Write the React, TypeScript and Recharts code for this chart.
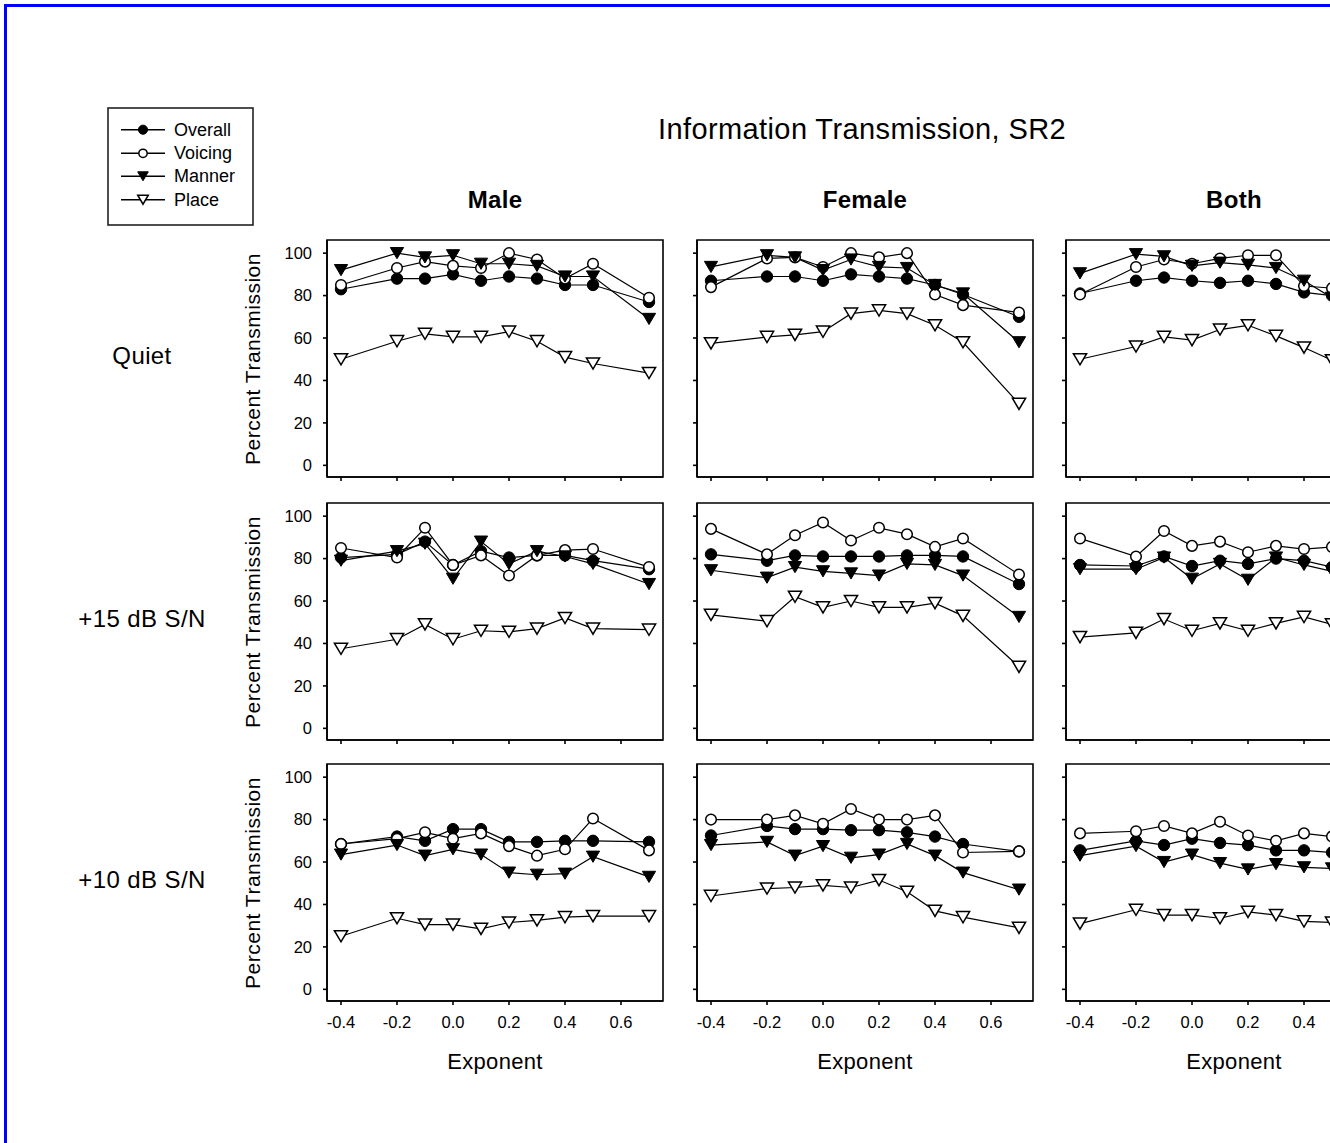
import React from 'react';
import { LineChart, Line, XAxis, YAxis, ReferenceArea } from 'recharts';

const EXPONENTS = [-0.4, -0.2, -0.1, 0.0, 0.1, 0.2, 0.3, 0.4, 0.5, 0.7];
const SERIES = ['Overall', 'Voicing', 'Manner', 'Place'];
const SERIES_KEYS = ['overall', 'voicing', 'manner', 'place'];
const COLUMNS = ['Male', 'Female', 'Both'];
const ROWS = ['Quiet', '+15 dB S/N', '+10 dB S/N'];
const X_TICKS = [-0.4, -0.2, 0.0, 0.2, 0.4, 0.6];
const Y_TICKS = [0, 20, 40, 60, 80, 100];

// each panel: [overall, voicing, manner, place]
const maleQuiet = [
  [83, 88, 88, 90, 87, 89, 88, 85, 85, 77],
  [85, 93, 96, 94, 93, 100, 97, 88, 95, 79],
  [92, 100, 98, 99, 95, 95, 94, 89, 89, 69],
  [50, 58.5, 62, 60.5, 60.5, 63, 58.5, 51, 48, 43.5],
];
const femaleQuiet = [
  [87, 89, 89, 87, 90, 89, 88, 85, 80.5, 70],
  [84, 97.5, 98, 93.5, 100, 98, 100, 80.5, 75.5, 72],
  [93.5, 99, 98, 92, 97, 93.5, 93, 85, 81, 58],
  [57.5, 60.5, 61.5, 63, 71.5, 73, 71.5, 66, 58, 29],
];
const bothQuiet = [
  [81, 87, 88.5, 87, 86, 87, 85.5, 81.5, 80, 73.5],
  [80.5, 93.5, 97, 95, 97.5, 99, 99, 84.5, 83.5, 75.5],
  [90.5, 99.5, 98.5, 94, 95.5, 94.5, 93, 87, 79, 63.5],
  [50, 56, 60.5, 59, 64, 66, 61, 55.5, 49.5, 36],
];
const maleSN15 = [
  [80.5, 82, 88, 77, 83.5, 80.5, 81.5, 81.5, 79, 75],
  [85, 80.5, 94.5, 77, 81.5, 72, 81.5, 84, 84.5, 76],
  [79, 83.5, 87, 70.5, 88, 77.5, 83.5, 81, 77.5, 68],
  [37.5, 42, 49, 42, 46, 45.5, 47, 52, 47, 46.5],
];
const femaleSN15 = [
  [82, 79, 81.5, 81, 81, 81, 81.5, 81.5, 81, 68],
  [94, 82, 91, 97, 88.5, 94.5, 91.5, 85.5, 89.5, 72.5],
  [74.5, 71, 76, 74, 73, 72, 77.5, 77, 72, 52.5],
  [53.5, 50.5, 62, 57, 60, 57, 57, 59, 53, 29],
];
const bothSN15 = [
  [77, 76.5, 81, 76.5, 79, 77.5, 80, 79, 76, 71.5],
  [89.5, 81, 93, 86, 88, 83, 86, 84.5, 85.5, 74.5],
  [75, 75, 80.5, 70.5, 77.5, 70, 80.5, 77, 74, 60],
  [43, 45, 51.5, 46, 49.5, 46, 49.5, 52.5, 49, 38],
];
const maleSN10 = [
  [68.5, 72, 70, 75.5, 75.5, 69.5, 69.5, 70, 70, 69.5],
  [68.5, 71, 74, 71, 73.5, 67.5, 63, 66, 80.5, 65.5],
  [63.5, 68, 63, 66, 63.5, 55, 54, 54.5, 62.5, 53],
  [25, 33.5, 30.5, 30.5, 28.5, 31.5, 32.5, 34, 34.5, 34.5],
];
const femaleSN10 = [
  [72.5, 77, 75.5, 75.5, 75, 75, 74, 72, 68.5, 65],
  [80, 80, 82, 78, 85, 80, 80, 82, 64.5, 65],
  [68, 69.5, 63, 67.5, 62, 63.5, 68.5, 63, 55, 47],
  [44, 47.5, 48, 49, 48, 51.5, 46, 37, 34, 29],
];
const bothSN10 = [
  [65.5, 70, 68, 71, 69, 68, 65.5, 65.5, 64.5, 67],
  [73.5, 74.5, 77, 73.5, 79, 72.5, 70, 73.5, 72, 65],
  [63, 67.5, 60, 63.5, 59.5, 56.5, 59, 57.5, 57, 50],
  [31, 37.5, 35, 35, 33.5, 36.5, 35, 32, 31.5, 32],
];

const PANELS = [
  [maleQuiet, femaleQuiet, bothQuiet],
  [maleSN15, femaleSN15, bothSN15],
  [maleSN10, femaleSN10, bothSN10],
];

const X_DOMAIN: [number, number] = [-0.45, 0.75];
const Y_DOMAIN: [number, number] = [-5.5, 106.2];

const COL_LEFT = [327, 697, 1066];
const ROW_TOP = [240, 503, 764];
const BOX_W = 336;
const BOX_H = 237;
const Y_W = 50;
const X_H = 40;
const M_TOP = 5;
const M_RIGHT = 5;

const FONT = '"Liberation Sans", Arial, Helvetica, sans-serif';

function Marker({ cx, cy, kind, size = 1 }: { cx?: number; cy?: number; kind: number; size?: number }) {
  if (cx == null || cy == null) return null;
  const r = 5.7 * size;
  const w = 6.6 * size;
  const h = 5.6 * size;
  if (kind === 0) return <circle cx={cx} cy={cy} r={r} fill="#000" stroke="#000" strokeWidth={1} />;
  if (kind === 1) return <circle cx={cx} cy={cy} r={r - 0.4} fill="#fff" stroke="#000" strokeWidth={1.5} />;
  const d = `M${cx - w},${cy - h}L${cx + w},${cy - h}L${cx},${cy + h}Z`;
  if (kind === 2) return <path d={d} fill="#000" stroke="#000" strokeWidth={1} />;
  return <path d={d} fill="#fff" stroke="#000" strokeWidth={1.5} />;
}

function Label({ x, y, text, size, weight = 'normal', rotate = false, spacing = 0 }: any) {
  return (
    <div
      style={{
        position: 'absolute',
        left: x,
        top: y,
        transform: `translate(-50%, -50%)${rotate ? ' rotate(-90deg)' : ''}`,
        fontSize: size,
        fontWeight: weight,
        letterSpacing: spacing,
        whiteSpace: 'nowrap',
        lineHeight: 1,
        color: '#000',
      }}
    >
      {text}
    </div>
  );
}

function Panel({ values, row, col }: { values: number[][]; row: number; col: number }) {
  const data = EXPONENTS.map((x, i) => {
    const d: Record<string, number> = { x };
    SERIES_KEYS.forEach((k, s) => {
      d[k] = values[s][i];
    });
    return d;
  });
  const showX = row === ROWS.length - 1;
  const showY = col === 0;
  const axisStyle = { stroke: '#000', strokeWidth: 1.6 };
  return (
    <div style={{ position: 'absolute', left: COL_LEFT[col] - Y_W, top: ROW_TOP[row] - M_TOP }}>
      <LineChart
        width={Y_W + BOX_W + M_RIGHT}
        height={M_TOP + BOX_H + X_H}
        data={data}
        margin={{ top: M_TOP, right: M_RIGHT, left: 0, bottom: 0 }}
      >
        <XAxis
          dataKey="x"
          type="number"
          domain={X_DOMAIN}
          ticks={X_TICKS}
          interval={0}
          height={X_H}
          tickSize={4}
          tickMargin={11}
          axisLine={axisStyle}
          tickLine={axisStyle}
          tick={{ fontSize: 16.5, fill: '#000', fontFamily: FONT }}
          tickFormatter={(v: number) => (showX ? v.toFixed(1) : '')}
        />
        <YAxis
          type="number"
          domain={Y_DOMAIN}
          ticks={Y_TICKS}
          interval={0}
          width={Y_W}
          tickSize={4}
          tickMargin={11}
          axisLine={axisStyle}
          tickLine={axisStyle}
          tick={{ fontSize: 16.5, fill: '#000', fontFamily: FONT }}
          tickFormatter={(v: number) => (showY ? String(v) : '')}
        />
        <ReferenceArea
          x1={X_DOMAIN[0]}
          x2={X_DOMAIN[1]}
          y1={Y_DOMAIN[0]}
          y2={Y_DOMAIN[1]}
          fill="none"
          stroke="#000"
          strokeWidth={1.6}
          ifOverflow="visible"
        />
        {SERIES_KEYS.map((k, s) => (
          <Line
            key={k}
            dataKey={k}
            type="linear"
            stroke="#000"
            strokeWidth={1.2}
            isAnimationActive={false}
            activeDot={false}
            dot={(p: any) => <Marker key={`${k}-${p.index}`} cx={p.cx} cy={p.cy} kind={s} />}
          />
        ))}
      </LineChart>
    </div>
  );
}

function LegendBox() {
  const rowsY = [22.7, 46.3, 69.3, 92.7];
  return (
    <svg
      width={147}
      height={119}
      style={{ position: 'absolute', left: 107, top: 107 }}
    >
      <rect x={1} y={1} width={145} height={117} fill="#fff" stroke="#222" strokeWidth={1.6} />
      {SERIES.map((name, s) => (
        <g key={name}>
          <line x1={14} x2={58} y1={rowsY[s]} y2={rowsY[s]} stroke="#000" strokeWidth={1.4} />
          <Marker cx={36} cy={rowsY[s]} kind={s} size={0.8} />
          <text x={67} y={rowsY[s] + 6} fontSize={18} fontFamily={FONT} fill="#000">
            {name}
          </text>
        </g>
      ))}
    </svg>
  );
}

export default function App() {
  const rowCenter = (r: number) => ROW_TOP[r] + BOX_H / 2;
  const colCenter = (c: number) => COL_LEFT[c] + BOX_W / 2;
  return (
    <div
      style={{
        position: 'absolute',
        left: 0,
        top: 0,
        width: 1330,
        height: 1143,
        overflow: 'hidden',
        background: '#fff',
        fontFamily: FONT,
      }}
    >
      <div
        style={{
          position: 'absolute',
          left: 4,
          top: 4,
          width: 1500,
          height: 1400,
          borderLeft: '3px solid #0000ff',
          borderTop: '3px solid #0000ff',
        }}
      />
      <LegendBox />
      <Label x={862} y={129} text="Information Transmission, SR2" size={29} spacing={0.4} />
      {COLUMNS.map((c, i) => (
        <Label key={c} x={colCenter(i)} y={200} text={c} size={24} weight="bold" spacing={0.3} />
      ))}
      {ROWS.map((r, i) => (
        <Label key={r} x={142} y={rowCenter(i) - 3} text={r} size={24} spacing={0.4} />
      ))}
      {ROWS.map((r, i) => (
        <Label key={`yl-${r}`} x={252} y={rowCenter(i)} text="Percent Transmission" size={21} rotate spacing={0.5} />
      ))}
      {COLUMNS.map((c, i) => (
        <Label key={`xl-${c}`} x={colCenter(i)} y={1062} text="Exponent" size={22} spacing={0.3} />
      ))}
      {PANELS.map((rowPanels, r) =>
        rowPanels.map((vals, c) => <Panel key={`${r}-${c}`} values={vals} row={r} col={c} />)
      )}
    </div>
  );
}
